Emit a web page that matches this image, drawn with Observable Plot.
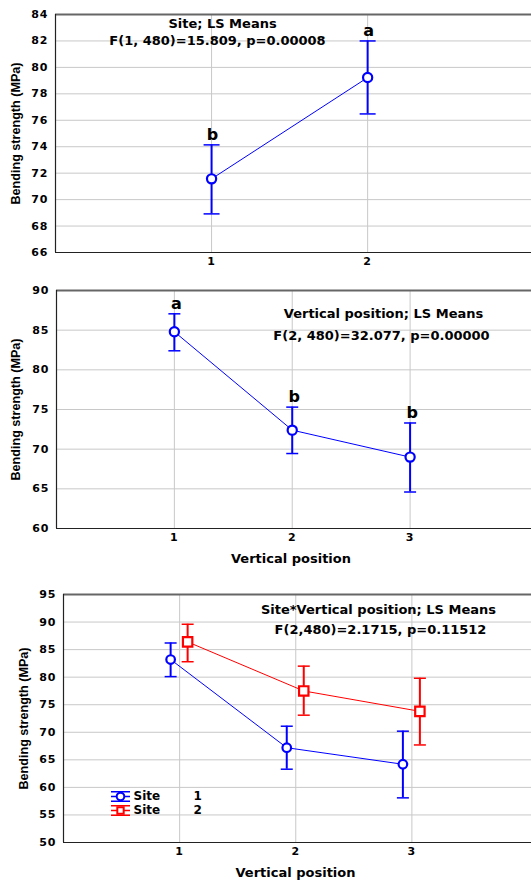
<!DOCTYPE html>
<html><head><meta charset="utf-8">
<script src="https://cdn.jsdelivr.net/npm/d3@7"></script>
<script src="https://cdn.jsdelivr.net/npm/@observablehq/plot@0.6"></script>
<style>
body{margin:0;background:#fff;}
#wrap{position:relative;width:531px;height:880px;overflow:hidden;background:#fff;}
#wrap svg{position:absolute;left:0;}
#wrap g[aria-label="y-axis tick label"] text,
#wrap g[aria-label="x-axis tick label"] text{letter-spacing:1px;}
#wrap g[aria-label="xlabel"] text{letter-spacing:1.8px;}
#wrap g[aria-label="legend"] text{letter-spacing:0.3px;}
</style></head><body><div id="wrap"></div>
<script>
// ---------- Panel 1: Site ----------
const siteLevels = [1, 2];
const siteMeans = [71.57, 79.23];
const siteLow = [68.92, 76.48];
const siteHigh = [74.14, 82.0];
const siteLetters = ["b", "a"];
const siteYTicks = [66, 68, 70, 72, 74, 76, 78, 80, 82, 84];
const siteText = ["Site; LS Means", "F(1, 480)=15.809, p=0.00008"];

// ---------- Panel 2: Vertical position ----------
const posLevels = [1, 2, 3];
const posMeans = [84.8, 72.4, 69.0];
const posLow = [82.4, 69.45, 64.6];
const posHigh = [87.06, 75.3, 73.3];
const posLetters = ["a", "b", "b"];
const posYTicks = [60, 65, 70, 75, 80, 85, 90];
const posText = ["Vertical position; LS Means", "F(2, 480)=32.077, p=0.00000"];

// ---------- Panel 3: Site * Vertical position ----------
const site1Means = [83.2, 67.2, 64.2];
const site1Low = [80.1, 63.3, 58.1];
const site1High = [86.2, 71.1, 70.2];
const site2Means = [86.4, 77.5, 73.8];
const site2Low = [82.8, 73.1, 67.7];
const site2High = [89.6, 82.0, 79.8];
const interYTicks = [50, 55, 60, 65, 70, 75, 80, 85, 90, 95];
const interText = ["Site*Vertical position; LS Means", "F(2,480)=2.1715, p=0.11512"];
const legendNames = ["Site", "Site"];
const legendLevels = ["1", "2"];

const yLabel = "Bending strength (MPa)";
const xLabel = "Vertical position";

const BLUE = "#0000ff", RED = "#ff0000";
const DV = "DejaVu Sans, Verdana, sans-serif";
const AR = "Liberation Sans, Arial, sans-serif";

const rowsOf = (x, m, lo, hi, lab) => x.map((v, i) => ({x: v, mean: m[i], low: lo[i], high: hi[i], letter: lab ? lab[i] : ""}));

const capSymbol = {draw(ctx, size) { const r = Math.sqrt(size / Math.PI); ctx.moveTo(-r, 0); ctx.lineTo(r, 0); }};
const legendBars = {draw(ctx, size) { const r = Math.sqrt(size / Math.PI); const h = r * 0.5;
  ctx.moveTo(-r, -h); ctx.lineTo(r, -h); ctx.moveTo(-r, h); ctx.lineTo(r, h); ctx.moveTo(-r, 0); ctx.lineTo(r, 0); }};

function seriesMarks(rows, color, symbol, r, dx, capR) {
  return [
    Plot.line(rows, {x: "x", y: "mean", stroke: color, strokeWidth: 1, dx}),
    Plot.ruleX(rows, {x: "x", y1: "low", y2: "high", stroke: color, strokeWidth: 2, dx}),
    Plot.dot(rows, {x: "x", y: "low", symbol: capSymbol, r: capR, stroke: color, strokeWidth: 1.5, fill: "none", dx}),
    Plot.dot(rows, {x: "x", y: "high", symbol: capSymbol, r: capR, stroke: color, strokeWidth: 1.5, fill: "none", dx}),
    Plot.dot(rows, {x: "x", y: "mean", symbol, r, stroke: color, fill: "white", strokeWidth: 2.2, dx})
  ];
}

const T = {fontWeight: "bold", fill: "#000", lineAnchor: "middle"};

function panel(o) {
  const svg = Plot.plot({
    width: 531, height: o.height,
    marginTop: o.mt, marginBottom: o.mb, marginLeft: o.ml, marginRight: 0,
    style: {fontFamily: DV, background: "transparent", color: "#000"},
    x: {domain: o.xDomain},
    y: {domain: o.yDomain},
    marks: [
      Plot.gridY(o.yTicks, {stroke: "#c8c8c8", strokeOpacity: 1, strokeWidth: 1}),
      Plot.gridX(o.xTicks, {stroke: "#c8c8c8", strokeOpacity: 1, strokeWidth: 1}),
      Plot.axisY(o.yTicks, {tickSize: 0, tickPadding: 7, fontSize: 11, fontWeight: "bold", label: null, fill: "#000", tickFormat: d3.format("d")}),
      Plot.axisX(o.xTicks, {tickSize: 0, tickPadding: 5, fontSize: 11, fontWeight: "bold", label: null, fill: "#000", tickFormat: d3.format("d")}),
      Plot.ruleY([o.yDomain[1]], {stroke: "#666", strokeWidth: 2}),
      Plot.ruleY([o.yDomain[0]], {stroke: "#222", strokeWidth: 1.2}),
      Plot.ruleX([o.xDomain[0]], {stroke: "#222", strokeWidth: 1.2}),
      Plot.text([yLabel], {...T, frameAnchor: "left", textAnchor: "middle", text: d => d, rotate: -90, dx: -o.yLabelOff, fontFamily: AR, fontSize: 12.6, ariaLabel: "ylabel"}),
      o.xLabel ? Plot.text([o.xLabel], {...T, frameAnchor: "bottom", textAnchor: "middle", text: d => d, dx: o.xLabelDx, dy: 30, fontSize: 13, ariaLabel: "xlabel"}) : null,
      Plot.text([o.text[0]], {...T, frameAnchor: "top-left", text: d => d, textAnchor: "middle", dx: o.t1[0], dy: o.t1[1], fontSize: 13, ariaLabel: "annot1"}),
      Plot.text([o.text[1]], {...T, frameAnchor: "top-left", text: d => d, textAnchor: "middle", dx: o.t2[0], dy: o.t2[1], fontSize: 13, ariaLabel: "annot2"}),
      ...o.marks
    ]
  });
  d3.select(svg).selectAll('g[aria-label="annot1"] text').style("letter-spacing", o.ls[0] + "px");
  d3.select(svg).selectAll('g[aria-label="annot2"] text').style("letter-spacing", o.ls[1] + "px");
  svg.style.top = o.top + "px";
  document.getElementById("wrap").append(svg);
}

// Panel 1
const siteRows = rowsOf(siteLevels, siteMeans, siteLow, siteHigh, siteLetters);
panel({
  top: 0, height: 285, mt: 14, mb: 33, ml: 55,
  xDomain: [0, 3.05], xTicks: siteLevels, yDomain: [66, 84], yTicks: siteYTicks,
  yLabelOff: 40, text: siteText, t1: [167, 9], t2: [162, 26], ls: [2.0, 0.7],
  marks: [
    ...seriesMarks(siteRows, BLUE, "circle", 4.6, 0, 8),
    Plot.text(siteRows, {x: "x", y: "high", text: "letter", lineAnchor: "bottom", dy: -5, dx: 1, fontSize: 16, fontWeight: "bold", fill: "#000"})
  ]
});

// Panel 2
const posRows = rowsOf(posLevels, posMeans, posLow, posHigh, posLetters);
panel({
  top: 280, height: 295, mt: 10, mb: 47, ml: 56,
  xDomain: [0, 4.03], xTicks: posLevels, yDomain: [60, 90], yTicks: posYTicks,
  yLabelOff: 41, xLabel: xLabel, xLabelDx: -3, text: posText, t1: [327, 23], t2: [325, 45], ls: [1.7, 0.75],
  marks: [
    ...seriesMarks(posRows, BLUE, "circle", 4.6, 0, 6),
    Plot.text(posRows, {x: "x", y: "high", text: "letter", lineAnchor: "bottom", dy: -5, dx: 2, fontSize: 16, fontWeight: "bold", fill: "#000"})
  ]
});

// Panel 3
const s1Rows = rowsOf(posLevels, site1Means, site1Low, site1High);
const s2Rows = rowsOf(posLevels, site2Means, site2Low, site2High);
panel({
  top: 580, height: 300, mt: 14, mb: 38, ml: 63,
  xDomain: [0, 4.03], xTicks: posLevels, yDomain: [50, 95], yTicks: interYTicks,
  yLabelOff: 40, xLabel: xLabel, xLabelDx: -2, text: interText, t1: [315, 15], t2: [317, 35], ls: [1.5, 0.55],
  marks: [
    ...seriesMarks(s1Rows, BLUE, "circle", 4.3, -9, 6),
    ...seriesMarks(s2Rows, RED, "square", 5.3, 8, 6),
    Plot.dot([legendNames[0]], {frameAnchor: "bottom-left", symbol: legendBars, r: 9.5, dx: 57, dy: -46, stroke: BLUE, strokeWidth: 1.5, fill: "none"}),
    Plot.dot([legendNames[0]], {frameAnchor: "bottom-left", symbol: "circle", r: 3.8, dx: 57, dy: -46, stroke: BLUE, strokeWidth: 2, fill: "white"}),
    Plot.dot([legendNames[1]], {frameAnchor: "bottom-left", symbol: legendBars, r: 9.5, dx: 57, dy: -32, stroke: RED, strokeWidth: 1.5, fill: "none"}),
    Plot.dot([legendNames[1]], {frameAnchor: "bottom-left", symbol: "square", r: 3.6, dx: 57, dy: -32, stroke: RED, strokeWidth: 2, fill: "white"}),
    Plot.text([legendNames[0]], {...T, frameAnchor: "bottom-left", text: d => d, textAnchor: "start", dx: 70, dy: -46, fontSize: 12, ariaLabel: "legend"}),
    Plot.text([legendNames[1]], {...T, frameAnchor: "bottom-left", text: d => d, textAnchor: "start", dx: 70, dy: -32, fontSize: 12, ariaLabel: "legend"}),
    Plot.text([legendLevels[0]], {...T, frameAnchor: "bottom-left", text: d => d, textAnchor: "start", dx: 130, dy: -46, fontSize: 12, ariaLabel: "legend"}),
    Plot.text([legendLevels[1]], {...T, frameAnchor: "bottom-left", text: d => d, textAnchor: "start", dx: 130, dy: -32, fontSize: 12, ariaLabel: "legend"})
  ]
});
</script></body></html>
